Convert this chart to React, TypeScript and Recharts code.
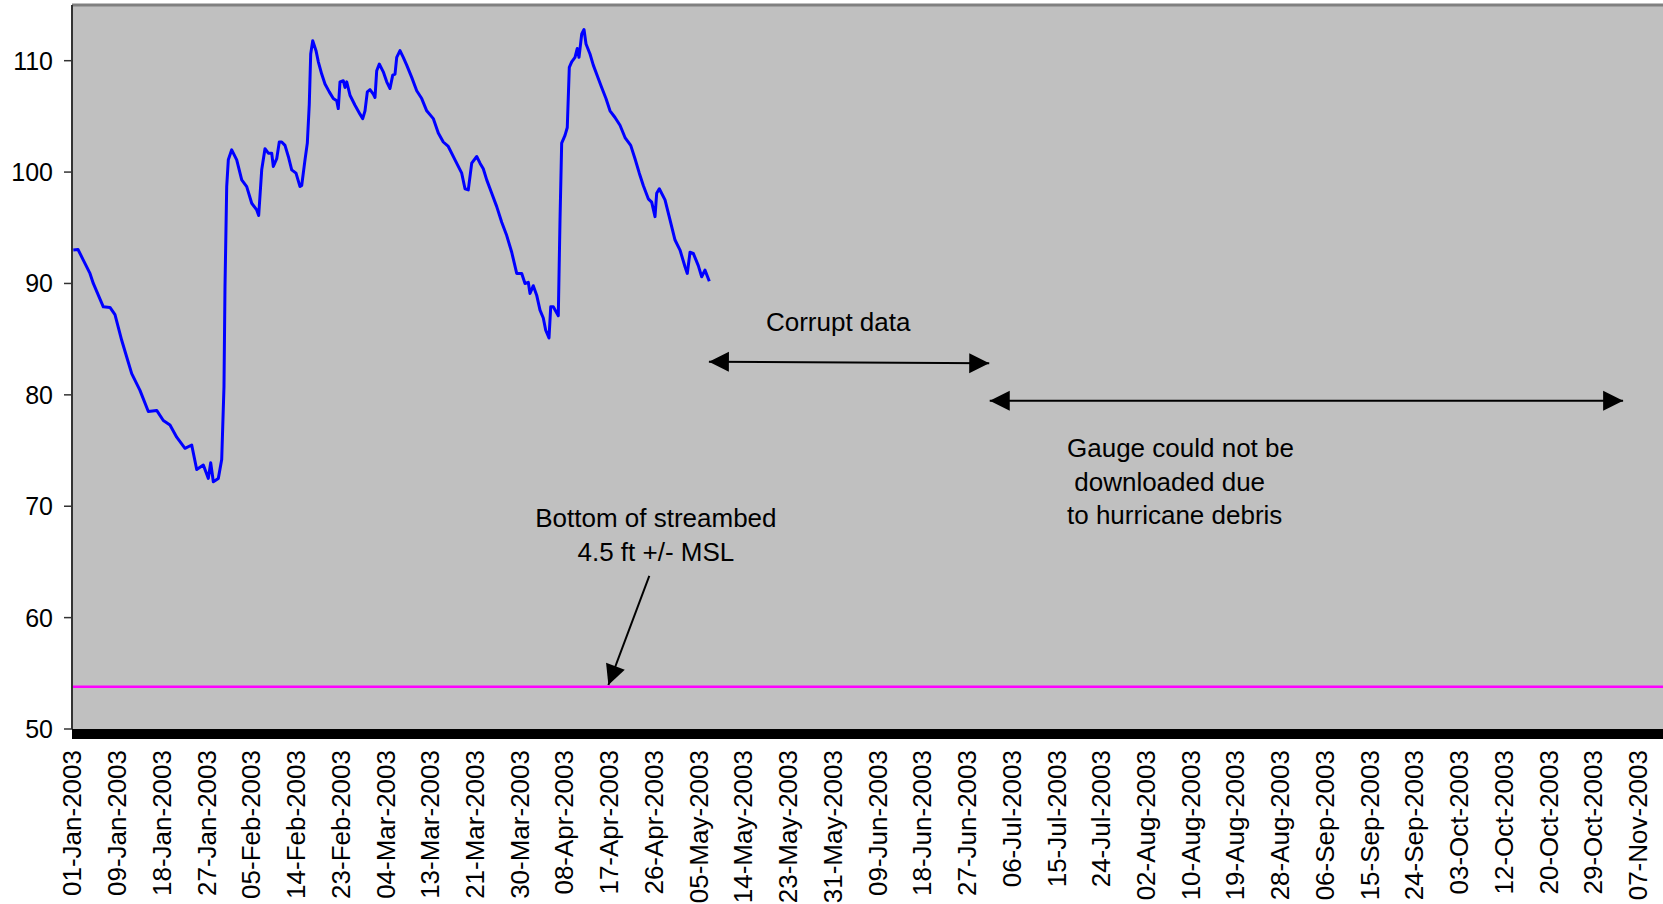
import React from 'react';
import { LineChart, Line, XAxis, YAxis, CartesianGrid, ReferenceArea, ReferenceLine, ReferenceDot } from 'recharts';

// water level readings, days since 01-Jan-2003
const levelDays = [
  0.26, 1.19, 2.24, 3.56, 4.22, 5.21, 6.2, 7.52, 8.51, 9.84, 10.83, 11.82, 13.46, 15.11, 16.77, 18.08,
  19.4, 20.73, 22.37, 23.7, 24.69, 26.0, 26.99, 27.46, 27.98, 28.97, 29.64, 30.09, 30.29, 30.63, 30.95,
  31.62, 32.61, 33.6, 34.59, 35.58, 36.57, 36.96, 37.56, 38.21, 38.87, 39.54, 39.86, 40.53, 41.04, 41.52,
  42.17, 42.83, 43.5, 44.35, 45.14, 45.48, 46.13, 46.59, 46.98, 47.26, 47.66, 48.31, 48.77, 49.44, 50.09,
  50.94, 51.73, 52.41, 52.72, 53.06, 53.71, 54.05, 54.39, 55.04, 56.03, 57.02, 57.56, 58.01, 58.47, 59.0,
  59.65, 59.99, 60.33, 60.84, 61.63, 62.31, 62.96, 63.5, 63.95, 64.29, 64.94, 65.59, 66.27, 67.26, 68.25,
  69.24, 70.23, 71.53, 72.52, 73.51, 74.5, 75.83, 77.16, 77.81, 78.46, 79.14, 80.13, 80.78, 81.43, 82.11,
  83.1, 84.09, 85.08, 86.07, 87.06, 88.05, 89.04, 89.69, 90.34, 90.68, 91.33, 92.0, 92.66, 93.31, 93.79,
  94.44, 94.78, 95.29, 96.28, 96.62, 96.95, 97.61, 98.06, 98.46, 98.93, 99.59, 100.04, 100.38, 100.92,
  101.37, 101.77, 102.56, 103.21, 104.2, 104.87, 105.72, 106.52, 107.51, 108.5, 109.49, 110.62, 111.47,
  112.32, 113.11, 114.1, 114.77, 115.43, 115.76, 116.28, 117.41, 118.4, 119.39, 120.38, 121.37, 121.82,
  122.36, 123.01, 124.0, 124.67, 125.32, 126.18,
];
const levelFeet = [
  93.0, 93.05, 92.1, 90.9, 90.0, 88.95, 87.9, 87.85, 87.2, 84.9, 83.4, 81.9, 80.4, 78.5, 78.6, 77.7,
  77.3, 76.2, 75.2, 75.5, 73.3, 73.7, 72.5, 73.9, 72.2, 72.5, 74.2, 80.7, 89.7, 98.7, 101.1,
  102.0, 101.1, 99.3, 98.7, 97.2, 96.6, 96.1, 100.2, 102.1, 101.7, 101.7, 100.5, 101.2, 102.7, 102.7,
  102.4, 101.4, 100.2, 99.9, 98.7, 98.8, 101.1, 102.6, 106.1, 110.6, 111.8, 110.9, 109.9, 108.8, 107.9,
  107.2, 106.6, 106.4, 105.7, 108.1, 108.2, 107.6, 108.1, 106.9, 106.0, 105.2, 104.8, 105.5, 107.2, 107.4,
  107.0, 106.7, 109.1, 109.7, 109.0, 108.1, 107.5, 108.7, 108.8, 110.3, 110.9, 110.3, 109.6, 108.5, 107.3,
  106.6, 105.5, 104.8, 103.5, 102.7, 102.3, 101.1, 99.9, 98.5, 98.4, 100.8, 101.4, 100.8, 100.3, 99.3,
  98.1, 96.9, 95.5, 94.3, 92.8, 90.9, 90.9, 90.0, 90.1, 89.1, 89.8, 88.95, 87.6, 86.9, 85.8,
  85.1, 87.9, 87.9, 87.1, 95.7, 102.6, 103.3, 104.0, 109.4, 109.9, 110.3, 111.1, 110.3, 112.4,
  112.8, 111.5, 110.6, 109.6, 108.4, 107.6, 106.6, 105.5, 104.9, 104.2, 103.1, 102.4, 101.2,
  99.9, 98.8, 97.6, 97.3, 96.0, 98.1, 98.5, 97.5, 95.7, 93.9, 93.0, 91.5, 90.9,
  92.8, 92.7, 91.6, 90.6, 91.2, 90.2,
];

const streambedDays = [0, 315];
const streambedFeet = [53.8, 53.8];

const tickLabels = [
  '01-Jan-2003', '09-Jan-2003', '18-Jan-2003', '27-Jan-2003', '05-Feb-2003', '14-Feb-2003',
  '23-Feb-2003', '04-Mar-2003', '13-Mar-2003', '21-Mar-2003', '30-Mar-2003', '08-Apr-2003',
  '17-Apr-2003', '26-Apr-2003', '05-May-2003', '14-May-2003', '23-May-2003', '31-May-2003',
  '09-Jun-2003', '18-Jun-2003', '27-Jun-2003', '06-Jul-2003', '15-Jul-2003', '24-Jul-2003',
  '02-Aug-2003', '10-Aug-2003', '19-Aug-2003', '28-Aug-2003', '06-Sep-2003', '15-Sep-2003',
  '24-Sep-2003', '03-Oct-2003', '12-Oct-2003', '20-Oct-2003', '29-Oct-2003', '07-Nov-2003',
];
const labelStep = 310 / 35; // days between category labels
const yTicks = [50, 60, 70, 80, 90, 100, 110];

const levelData = levelDays.map((d, i) => ({ day: d, level: levelFeet[i] }));
const streamData = streambedDays.map((d, i) => ({ day: d, level: streambedFeet[i] }));
const xTicks = tickLabels.map((_, i) => i * labelStep);

const FONT = "'Liberation Sans', Arial, sans-serif";

const DateTick = (props: any) => {
  const { x, y, payload } = props;
  const label = tickLabels[Math.round(payload.value / labelStep)];
  return (
    <text x={x} y={y} dy="0.36em" textAnchor="end" transform={`rotate(-90, ${x}, ${y})`}
      fontSize={26} fontFamily={FONT} fill="#000">{label}</text>
  );
};

const ValueTick = (props: any) => {
  const { x, y, payload } = props;
  return (
    <text x={x} y={y} dy="0.36em" textAnchor="end" fontSize={25} fontFamily={FONT} fill="#000">{payload.value}</text>
  );
};

const headPoly = (tx: number, ty: number, fx: number, fy: number) => {
  const a = Math.atan2(ty - fy, tx - fx);
  const L = 20, W = 10;
  const bx = tx - L * Math.cos(a), by = ty - L * Math.sin(a);
  const pts = [
    [tx, ty],
    [bx + W * Math.sin(a), by - W * Math.cos(a)],
    [bx - W * Math.sin(a), by + W * Math.cos(a)],
  ];
  return <polygon points={pts.map(p => p.join(',')).join(' ')} fill="#000" />;
};

const arrow = (both: boolean) => (p: any) => (
  <g>
    <line x1={p.x1} y1={p.y1} x2={p.x2} y2={p.y2} stroke="#000" strokeWidth={2} />
    {headPoly(p.x2, p.y2, p.x1, p.y1)}
    {both && headPoly(p.x1, p.y1, p.x2, p.y2)}
  </g>
);

const note = (lines: string[], anchor: 'start' | 'middle', gap: number) => (p: any) => (
  <text x={p.cx} y={p.cy} textAnchor={anchor} fontSize={26} fontFamily={FONT} fill="#000">
    {lines.map((l, i) => (
      <tspan key={i} x={p.cx} dy={i === 0 ? 0 : gap} style={{ whiteSpace: 'pre' }}>{l}</tspan>
    ))}
  </text>
);

export default function App() {
  return (
    <div style={{ position: 'absolute', left: 0, top: 0, background: '#fff' }}>
      <LineChart width={1663} height={904} margin={{ top: 5, right: 0, bottom: 0, left: 0 }}>
        <CartesianGrid horizontal={false} vertical={false} fill="#c0c0c0" />
        <XAxis type="number" dataKey="day" domain={[0, 315]} ticks={xTicks} allowDataOverflow
          height={175} axisLine={false} tickLine={false} tickSize={10} tickMargin={11}
          interval={0} tick={<DateTick />} />
        <YAxis type="number" domain={[50, 115]} ticks={yTicks} width={72} allowDataOverflow
          axisLine={{ stroke: '#333', strokeWidth: 2 }} tickLine={{ stroke: '#333', strokeWidth: 1.5 }}
          tickSize={8} tickMargin={11} tick={<ValueTick />} />
        <ReferenceLine y={115} stroke="#808080" strokeWidth={3} />
        <ReferenceArea x1={0} x2={315} y1={49.1} y2={50} fill="#000" fillOpacity={1} ifOverflow="visible" />
        <Line data={streamData} dataKey="level" type="linear" stroke="#ff00ff" strokeWidth={2.5}
          dot={false} isAnimationActive={false} />
        <Line data={levelData} dataKey="level" type="linear" stroke="#0000ff" strokeWidth={3}
          strokeLinejoin="round" dot={false} isAnimationActive={false} />
        <ReferenceLine segment={[{ x: 126.1, y: 82.98 }, { x: 181.6, y: 82.83 }]} shape={arrow(true)} />
        <ReferenceLine segment={[{ x: 181.7, y: 79.48 }, { x: 307.1, y: 79.48 }]} shape={arrow(true)} />
        <ReferenceLine segment={[{ x: 114.3, y: 63.74 }, { x: 106.2, y: 53.95 }]} shape={arrow(false)} />
        <ReferenceDot x={151.7} y={85.76} r={0} shape={note(['Corrupt data'], 'middle', 0)} />
        <ReferenceDot x={197.0} y={74.39} r={0}
          shape={note(['Gauge could not be', ' downloaded due', 'to hurricane debris'], 'start', 33.5)} />
        <ReferenceDot x={115.6} y={68.16} r={0}
          shape={note(['Bottom of streambed', '4.5 ft +/- MSL'], 'middle', 34)} />
      </LineChart>
    </div>
  );
}
